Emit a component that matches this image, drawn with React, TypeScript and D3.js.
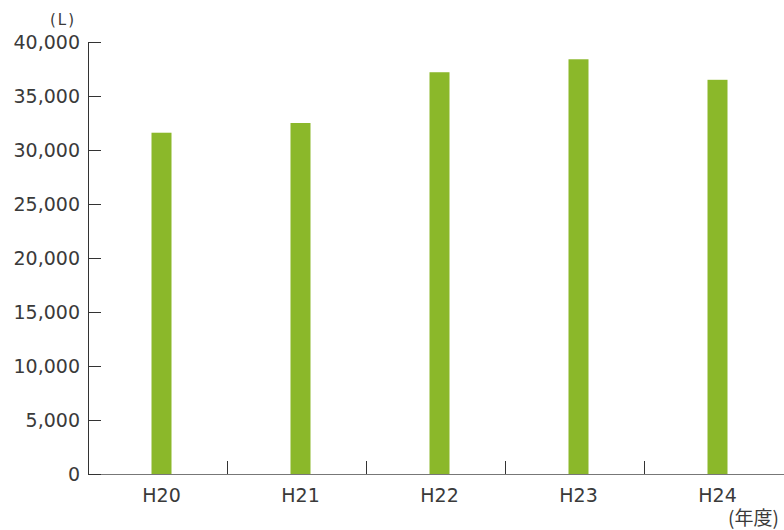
import React from "react";
import * as d3 from "d3";

const categories = ["H20", "H21", "H22", "H23", "H24"];
const values = [31600, 32500, 37200, 38400, 36500];
const yTicks = [0, 5000, 10000, 15000, 20000, 25000, 30000, 35000, 40000];

const W = 784, H = 530;
const left = 88, right = 783, top = 42, bottom = 474;
const font = "'DejaVu Sans', sans-serif";

export default function App() {
  const x = d3.scaleBand().domain(categories).range([left, right]).padding(0);
  const y = d3.scaleLinear().domain([0, 40000]).range([bottom, top]);
  const bw = 20;
  const fmt = d3.format(",");
  return (
    <svg width={W} height={H} style={{ position: "absolute", left: 0, top: 0, background: "#fff" }}>
      {categories.map((c, i) => {
        const cx = x(c)! + x.bandwidth() / 2 + 4;
        return (
          <rect key={c} x={cx - bw / 2} y={y(values[i])} width={bw} height={bottom - y(values[i])} fill="#8BB82A" />
        );
      })}
      <line x1={left} x2={W} y1={bottom + 0.5} y2={bottom + 0.5} stroke="#777" strokeWidth={1} />
      {categories.slice(1).map((c) => (
        <line key={c} x1={Math.round(x(c)!) + 0.5} x2={Math.round(x(c)!) + 0.5} y1={bottom} y2={bottom - 13} stroke="#333" strokeWidth={1} />
      ))}
      <line x1={left + 0.5} x2={left + 0.5} y1={top} y2={bottom} stroke="#333" strokeWidth={1} />
      {yTicks.map((t) => (
        <g key={t}>
          <line x1={left} x2={left + 13} y1={Math.round(y(t)) + 0.5} y2={Math.round(y(t)) + 0.5} stroke="#333" strokeWidth={1} />
          <text x={80} y={y(t)} dy="0.36em" textAnchor="end" fontFamily={font} fontSize={19} fill="#3a3a3a">
            {fmt(t)}
          </text>
        </g>
      ))}
      {categories.map((c) => (
        <text key={c} x={x(c)! + x.bandwidth() / 2 + 4} y={502} textAnchor="middle" fontFamily={font} fontSize={19} fill="#3a3a3a">
          {c}
        </text>
      ))}
      <text x={50} y={25} fontFamily={font} fontSize={15} letterSpacing={2} fill="#3a3a3a">(L)</text>
      <text x={728} y={525} fontFamily="'Noto Sans CJK JP', sans-serif" fontSize={19} fill="#3a3a3a">(年度)</text>
    </svg>
  );
}
